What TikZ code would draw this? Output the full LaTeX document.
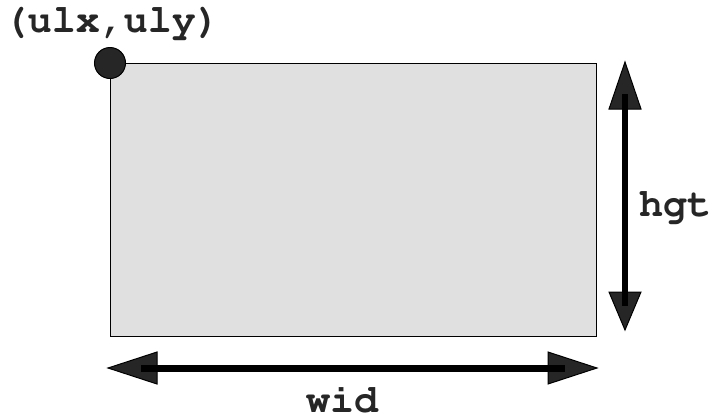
\documentclass[tikz,border=0pt]{standalone}
\usepackage[T1]{fontenc}
\begin{document}
\begin{tikzpicture}[x=1pt,y=-1pt,
  lbl/.style={font=\fontfamily{pcr}\fontseries{b}\fontsize{40}{40}\selectfont, text=black!85, inner sep=0pt},
  head/.style={fill=black!85, draw=black, line width=1pt, line join=miter}]
\useasboundingbox (0,0) rectangle (718,416);
% box
\node[draw=black, line width=1.3pt, fill=black!12, minimum width=486pt, minimum height=273pt,
      inner sep=0pt, anchor=north west] (box) at (110,63) {};
\node[circle, fill=black!85, draw=black, line width=1pt, minimum size=31pt, inner sep=0pt] (corner) at (box.north west) {};
\node[lbl] (ul) at (112,23) {(ulx,uly)};
% height arrow
\coordinate (htop) at (625,62);
\coordinate (hbot) at (625,330);
\fill[head] (htop) -- ([xshift=16pt,yshift=-47pt]htop) -- ([xshift=-16pt,yshift=-47pt]htop) -- cycle;
\fill[head] (hbot) -- ([xshift=16pt,yshift=38pt]hbot) -- ([xshift=-16pt,yshift=38pt]hbot) -- cycle;
\draw[line width=6pt] ([yshift=-32pt]htop) -- ([yshift=24pt]hbot);
\node[lbl] (hgt) at (675,207) {hgt};
% width arrow
\coordinate (wl) at (108,368);
\coordinate (wr) at (597,368);
\fill[head] (wl) -- ([xshift=49pt,yshift=-16pt]wl) -- ([xshift=49pt,yshift=16pt]wl) -- cycle;
\fill[head] (wr) -- ([xshift=-49pt,yshift=-16pt]wr) -- ([xshift=-49pt,yshift=16pt]wr) -- cycle;
\draw[line width=7pt] ([xshift=33pt]wl) -- ([xshift=-32pt]wr);
\node[lbl] (wid) at (342,400) {wid};
\end{tikzpicture}
\end{document}
